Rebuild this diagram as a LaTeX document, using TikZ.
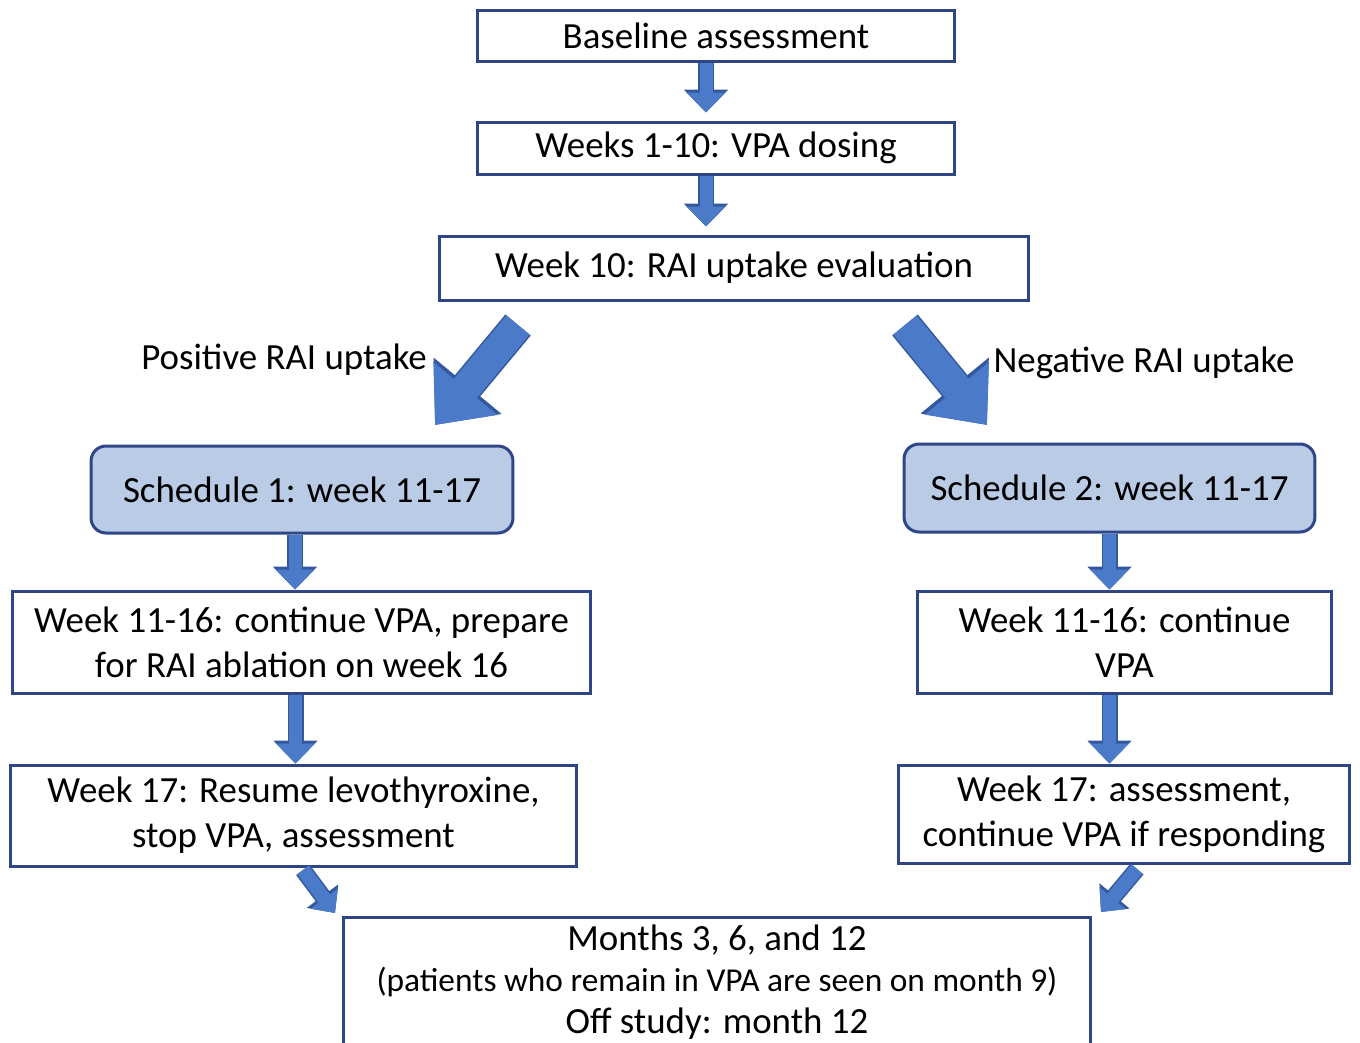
\documentclass[tikz,border=0pt]{standalone}
\usepackage{fontspec}
\setmainfont{Carlito}
\usepackage{tikz}
\usetikzlibrary{arrows.meta}
\usepackage{xcolor}
\definecolor{boxedge}{RGB}{46,70,135}
\definecolor{schedfill}{RGB}{185,203,229}
\definecolor{arrowfill}{RGB}{74,122,200}
\definecolor{arrowedge}{RGB}{52,88,158}

\begin{document}
\begin{tikzpicture}[
  x=0.02cm, y=-0.02cm,
  font=\fontsize{21}{25.5}\selectfont,
  box/.style={draw=boxedge, line width=0.06cm, align=center, inner sep=0pt},
  sched/.style={box, rounded corners=0.3cm, fill=schedfill},
  flowarr/.style={draw=arrowfill, line width=0.26cm, -{Triangle[length=0.4cm, width=0.76cm]},
    preaction={draw=arrowedge, line width=0.32cm, -{Triangle[length=0.46cm, width=0.86cm]}}},
  bigarr/.style={draw=arrowfill, line width=0.6cm, -{Triangle[length=0.95cm, width=1.6cm]},
    preaction={draw=arrowedge, line width=0.66cm, -{Triangle[length=1.02cm, width=1.7cm]}}},
  smallarr/.style={draw=arrowfill, line width=0.28cm, -{Triangle[length=0.36cm, width=0.66cm]},
    preaction={draw=arrowedge, line width=0.34cm, -{Triangle[length=0.42cm, width=0.76cm]}}}
]
\useasboundingbox (0,0) rectangle (1360,1042);

% --- Top of the flow ---------------------------------------------------------
\node[box, minimum width=9.56cm, minimum height=1.02cm] (base) at (716,35.5) {Baseline assessment};
\node[box, minimum width=9.56cm, minimum height=1.04cm] (dose) at (716,148) {Weeks 1-10: VPA dosing};
\node[box, minimum width=11.8cm, minimum height=1.28cm] (rai) at (734,268) {Week 10: RAI uptake evaluation};

\draw[flowarr, shorten >=0.16cm] ([xshift=-0.2cm]base.south) -- ([xshift=-0.2cm]dose.north);
\draw[flowarr, shorten >=0.16cm] ([xshift=-0.2cm]dose.south) -- ([xshift=-0.2cm]dose.south |- rai.north);

% --- Branching on uptake -----------------------------------------------------
\coordinate (posfrom) at (518,325);
\coordinate (posto) at (435,425);
\coordinate (negfrom) at (905,325);
\coordinate (negto) at (987,425);
\draw[bigarr] (posfrom) -- (posto);
\draw[bigarr] (negfrom) -- (negto);
\node (poslbl) at (284,360) {Positive RAI uptake};
\node (neglbl) at (1144,363) {Negative RAI uptake};

% --- Schedule 1 (left) -------------------------------------------------------
\node[sched, minimum width=8.44cm, minimum height=1.74cm] (sched1) at (302,489.5) {Schedule 1: week 11-17};
\node[box, minimum width=11.58cm, minimum height=2.04cm] (lcont) at (301.5,642)
  {Week 11-16: continue VPA, prepare\\for RAI ablation on week 16};
\node[box, minimum width=11.34cm, minimum height=2.02cm] (lend) at (293.5,815.5)
  {Week 17: Resume levothyroxine,\\stop VPA, assessment};

\draw[flowarr] ([xshift=-0.14cm]sched1.south) -- ([xshift=-0.14cm]sched1.south |- lcont.north);
\draw[flowarr] ([xshift=-0.12cm]lcont.south) -- ([xshift=-0.12cm]lcont.south |- lend.north);

% --- Schedule 2 (right) ------------------------------------------------------
\node[sched, minimum width=8.22cm, minimum height=1.76cm] (sched2) at (1109.5,488) {Schedule 2: week 11-17};
\node[box, minimum width=8.3cm, minimum height=2.04cm] (rcont) at (1124.5,642)
  {Week 11-16: continue\\VPA};
\node[box, minimum width=9.04cm, minimum height=1.96cm] (rend) at (1124,814)
  {Week 17: assessment,\\continue VPA if responding};

\draw[flowarr] (sched2.south) -- (sched2.south |- rcont.north);
\draw[flowarr] (sched2.south |- rcont.south) -- (sched2.south |- rend.north);

% --- Follow-up ---------------------------------------------------------------
\node[box, minimum width=14.96cm, minimum height=2.6cm] (final) at (717,982)
  {Months 3, 6, and 12\\[-2pt]
   {\fontsize{19}{23}\selectfont (patients who remain in VPA are seen on month 9)}\\[-2pt]
   Off study: month 12};

\coordinate (lfrom) at (303,870);
\coordinate (lto) at (335,913);
\coordinate (rfrom) at (1137,869);
\coordinate (rto) at (1101,912);
\draw[smallarr] (lfrom) -- (lto);
\draw[smallarr] (rfrom) -- (rto);

\end{tikzpicture}
\end{document}
